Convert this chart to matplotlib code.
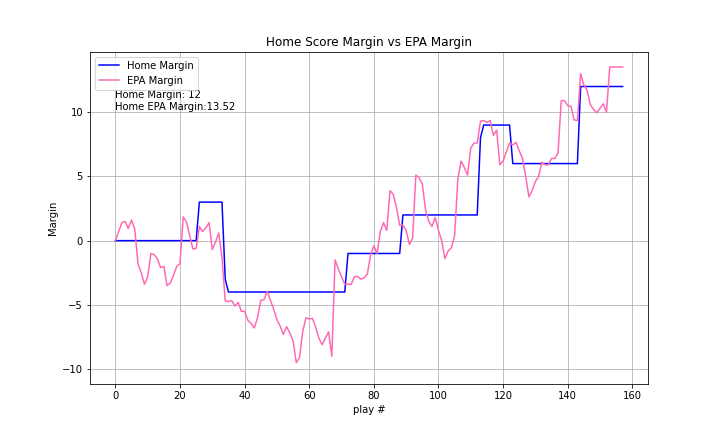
import matplotlib
matplotlib.use("Agg")
import matplotlib.pyplot as plt

# running home score margin after each play
home_margin = [
    0, 0, 0, 0, 0, 0, 0, 0, 0, 0, 0, 0, 0, 0, 0, 0, 0, 0, 0, 0,
    0, 0, 0, 0, 0, 0, 3, 3, 3, 3, 3, 3, 3, 3, -3, -4, -4, -4, -4, -4,
    -4, -4, -4, -4, -4, -4, -4, -4, -4, -4, -4, -4, -4, -4, -4, -4, -4, -4, -4, -4,
    -4, -4, -4, -4, -4, -4, -4, -4, -4, -4, -4, -4, -1, -1, -1, -1, -1, -1, -1, -1,
    -1, -1, -1, -1, -1, -1, -1, -1, -1, 2, 2, 2, 2, 2, 2, 2, 2, 2, 2, 2,
    2, 2, 2, 2, 2, 2, 2, 2, 2, 2, 2, 2, 2, 8, 9, 9, 9, 9, 9, 9,
    9, 9, 9, 6, 6, 6, 6, 6, 6, 6, 6, 6, 6, 6, 6, 6, 6, 6, 6, 6,
    6, 6, 6, 6, 12, 12, 12, 12, 12, 12, 12, 12, 12, 12, 12, 12, 12, 12,
]

# running EPA margin after each play
epa_margin = [
    0.0, 0.7, 1.4, 1.5, 0.95, 1.6, 0.9, -1.8, -2.5, -3.4,
    -2.8, -1.0, -1.1, -1.4, -2.1, -2.0, -3.5, -3.3, -2.7, -2.0,
    -1.8, 1.85, 1.45, 0.4, -0.65, -0.6, 1.1, 0.7, 1.0, 1.4,
    -0.7, -0.1, 0.6, -1.3, -4.7, -4.75, -4.65, -5.1, -4.8, -5.5,
    -5.5, -6.2, -6.45, -6.8, -6.0, -4.65, -4.6, -3.95, -4.65, -5.35,
    -6.15, -6.65, -7.3, -6.7, -7.2, -7.8, -9.5, -9.1, -7.05, -6.0,
    -6.1, -6.05, -6.75, -7.6, -8.1, -7.6, -7.1, -9.0, -1.5, -2.2,
    -2.8, -3.4, -3.4, -3.4, -2.8, -2.8, -3.0, -2.9, -2.6, -1.1,
    -0.4, -1.0, 0.7, 1.4, 0.8, 3.9, 3.6, 2.6, 1.2, 1.2,
    0.8, -0.3, 0.2, 5.1, 4.9, 4.4, 2.4, 1.5, 1.1, 1.8,
    0.8, 0.0, -1.4, -0.8, -0.55, 0.4, 4.8, 6.2, 5.7, 5.1,
    7.2, 7.6, 7.6, 9.3, 9.35, 9.2, 9.35, 8.2, 8.6, 5.9,
    6.2, 6.9, 7.6, 7.45, 7.65, 7.0, 6.4, 5.0, 3.4, 3.9,
    4.6, 5.0, 6.1, 5.9, 5.9, 6.4, 6.4, 6.8, 10.9, 10.9,
    10.5, 10.45, 9.4, 9.35, 13.0, 12.1, 11.7, 10.6, 10.2, 9.95,
    10.3, 10.65, 10.0, 13.52, 13.52, 13.52, 13.52, 13.52,
]

plays = list(range(len(epa_margin)))

fig = plt.figure(figsize=(10, 6), dpi=72)
plt.plot(plays, home_margin, color="blue", label="Home Margin")
plt.plot(plays, epa_margin, color="hotpink", label="EPA Margin")
plt.text(0, 10.2, f"Home Margin: {home_margin[-1]}\nHome EPA Margin:{epa_margin[-1]}")
plt.title("Home Score Margin vs EPA Margin")
plt.xlabel("play #")
plt.ylabel("Margin")
plt.ylim(-11.2, 14.7)
plt.legend(loc="upper left")
plt.grid(True)
plt.savefig("out.png", dpi=72)
